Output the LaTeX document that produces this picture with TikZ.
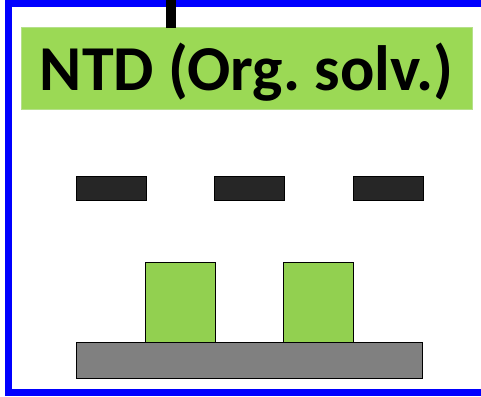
\documentclass[tikz,border=0pt]{standalone}
\usepackage{fontspec}
\setmainfont{Carlito}
\frenchspacing
\definecolor{titlegreen}{HTML}{9BD955}
\definecolor{titleedge}{HTML}{B5E08A}
\definecolor{padgreen}{HTML}{92D050}
\definecolor{bardark}{HTML}{262626}
\definecolor{basegray}{HTML}{808080}
\definecolor{framecol}{HTML}{0000FF}
\begin{document}
\begin{tikzpicture}[x=1pt,y=-1pt,
  blk/.style={draw=black, line width=1pt, inner sep=0pt, outer sep=0pt, anchor=north west},
  darkbar/.style={blk, fill=bardark, minimum width=70pt, minimum height=24.5pt},
  pad/.style={blk, fill=padgreen, minimum width=70pt, minimum height=80pt},
  basebox/.style={blk, fill=basegray, minimum width=346pt, minimum height=36pt},
  titlebox/.style={draw=titleedge, line width=1pt, fill=titlegreen, inner sep=0pt, outer sep=0pt,
    anchor=north west, minimum width=451pt, minimum height=81pt},
  titletxt/.style={inner sep=0pt, font=\fontsize{64}{66}\selectfont\bfseries}]
\useasboundingbox (0,0) rectangle (481,396);
\clip (0,0) rectangle (481,396);
% frame
\draw[framecol, line width=7pt] (495,3.5) -- (8.5,3.5) -- (8.5,392.5) -- (495,392.5);
% title
\node[titlebox] (title) at (21,28) {};
\node[titletxt, yshift=-7.7pt] (titletext) at (title.center) {\strut NTD (Org. solv.)};
\coordinate (stubtop) at (170.7,0);
\draw[black, line width=10pt] (stubtop) -- (title.north -| stubtop);
% dark bars
\node[darkbar] (bar1) at (76,176) {};
\node[darkbar] (bar2) at (214.5,176) {};
\node[darkbar] (bar3) at (353,176) {};
% base and pads
\node[basebox] (base) at (76,342.7) {};
\node[pad] (pad1) at (145,262.5) {};
\node[pad] (pad2) at (283.5,262.5) {};
\end{tikzpicture}
\end{document}
